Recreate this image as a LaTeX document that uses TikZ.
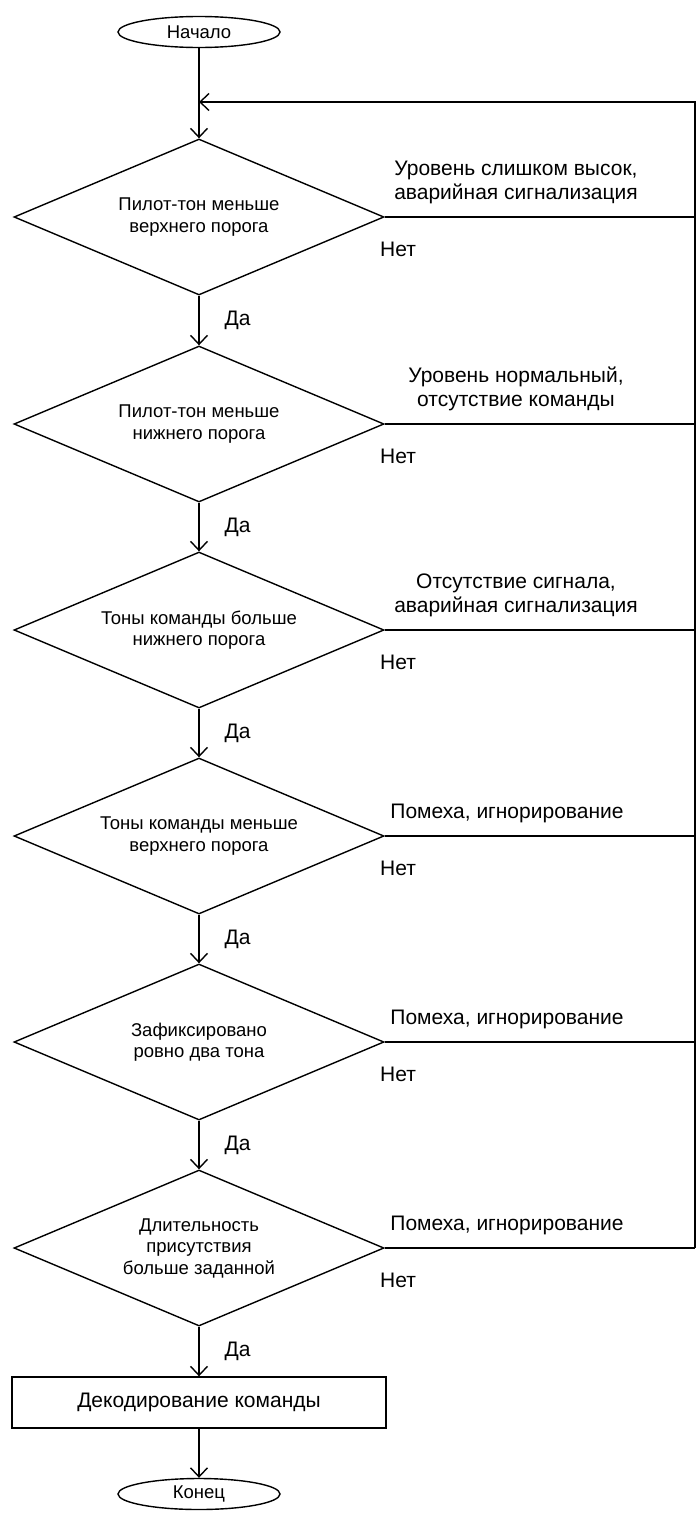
\documentclass[tikz,border=0pt]{standalone}
\usepackage{fontspec}
\setmainfont{Liberation Sans}
\usetikzlibrary{arrows.meta,positioning,shapes.geometric}

\tikzset{
  dia/.style={diamond, draw=black, line width=1.4pt, aspect=2.37, minimum width=370, minimum height=156, inner sep=0pt, align=center, font=\fontsize{18.5}{21.5}\selectfont},
  term/.style={ellipse, draw=black, line width=1.4pt, minimum width=162, minimum height=31, inner sep=0pt, font=\fontsize{18.5}{21.5}\selectfont},
  proc/.style={rectangle, draw=black, line width=1.4pt, minimum width=374, minimum height=51, inner sep=0pt, font=\fontsize{21}{24.5}\selectfont},
  lbl/.style={inner sep=0pt, align=center, font=\fontsize{21}{24.5}\selectfont},
  arr/.style={-{Straight Barb[length=9pt,width=17pt]}, line width=1.4pt},
  ln/.style={line width=1.4pt}
}

\begin{document}
\begin{tikzpicture}[x=1pt, y=-1pt]
  \useasboundingbox (0,0) rectangle (696,1515);

  \node (start) [term] at (199,32) {Начало};

  \node (d1) [dia] at (199,217) {Пилот-тон меньше\\верхнего порога};
  \node (d2) [dia] at (199,424) {Пилот-тон меньше\\нижнего порога};
  \node (d3) [dia] at (199,630) {Тоны команды больше\\нижнего порога};
  \node (d4) [dia] at (199,836) {Тоны команды меньше\\верхнего порога};
  \node (d5) [dia] at (199,1042) {Зафиксировано\\ровно два тона};
  \node (d6) [dia] at (199,1248) {Длительность\\присутствия\\больше заданной};

  \node (dec) [proc] at (199,1402.5) {Декодирование команды};
  \node (stop) [term] at (199,1494) {Конец};

  % right side return line
  \coordinate (r1) at (695,217);
  \coordinate (r2) at (695,424);
  \coordinate (r3) at (695,630);
  \coordinate (r4) at (695,836);
  \coordinate (r5) at (695,1042);
  \coordinate (r6) at (695,1248);
  \coordinate (rtop) at (695,102);
  \coordinate (loop) at (199,102);

  \node (l1) [lbl, anchor=south] at (516,204.5) {Уровень слишком высок,\\аварийная сигнализация};
  \node (l2) [lbl, anchor=south] at (516,411.5) {Уровень нормальный,\\отсутствие команды};
  \node (l3) [lbl, anchor=south] at (516,617.5) {Отсутствие сигнала,\\аварийная сигнализация};
  \node (l4) [lbl, anchor=south] at (507,823.5) {Помеха, игнорирование};
  \node (l5) [lbl, anchor=south] at (507,1029.5) {Помеха, игнорирование};
  \node (l6) [lbl, anchor=south] at (507,1235.5) {Помеха, игнорирование};

  \node (n1) [lbl, anchor=north west] at (380,242) {Нет};
  \node (n2) [lbl, anchor=north west] at (380,449) {Нет};
  \node (n3) [lbl, anchor=north west] at (380,655) {Нет};
  \node (n4) [lbl, anchor=north west] at (380,861) {Нет};
  \node (n5) [lbl, anchor=north west] at (380,1067) {Нет};
  \node (n6) [lbl, anchor=north west] at (380,1273) {Нет};

  \path [arr]
  (start) edge (d1)
  (d1) edge node [lbl, right=25] {Да} (d2)
  (d2) edge node [lbl, right=25] {Да} (d3)
  (d3) edge node [lbl, right=25] {Да} (d4)
  (d4) edge node [lbl, right=25] {Да} (d5)
  (d5) edge node [lbl, right=25] {Да} (d6)
  (d6) edge node [lbl, right=25] {Да} (dec)
  (dec) edge (stop);

  \path [ln]
  (d1.east) edge (r1)
  (d2.east) edge (r2)
  (d3.east) edge (r3)
  (d4.east) edge (r4)
  (d5.east) edge (r5)
  (d6.east) edge (r6);

  \draw [arr] (r6) -- (rtop) -- (loop);
\end{tikzpicture}
\end{document}
